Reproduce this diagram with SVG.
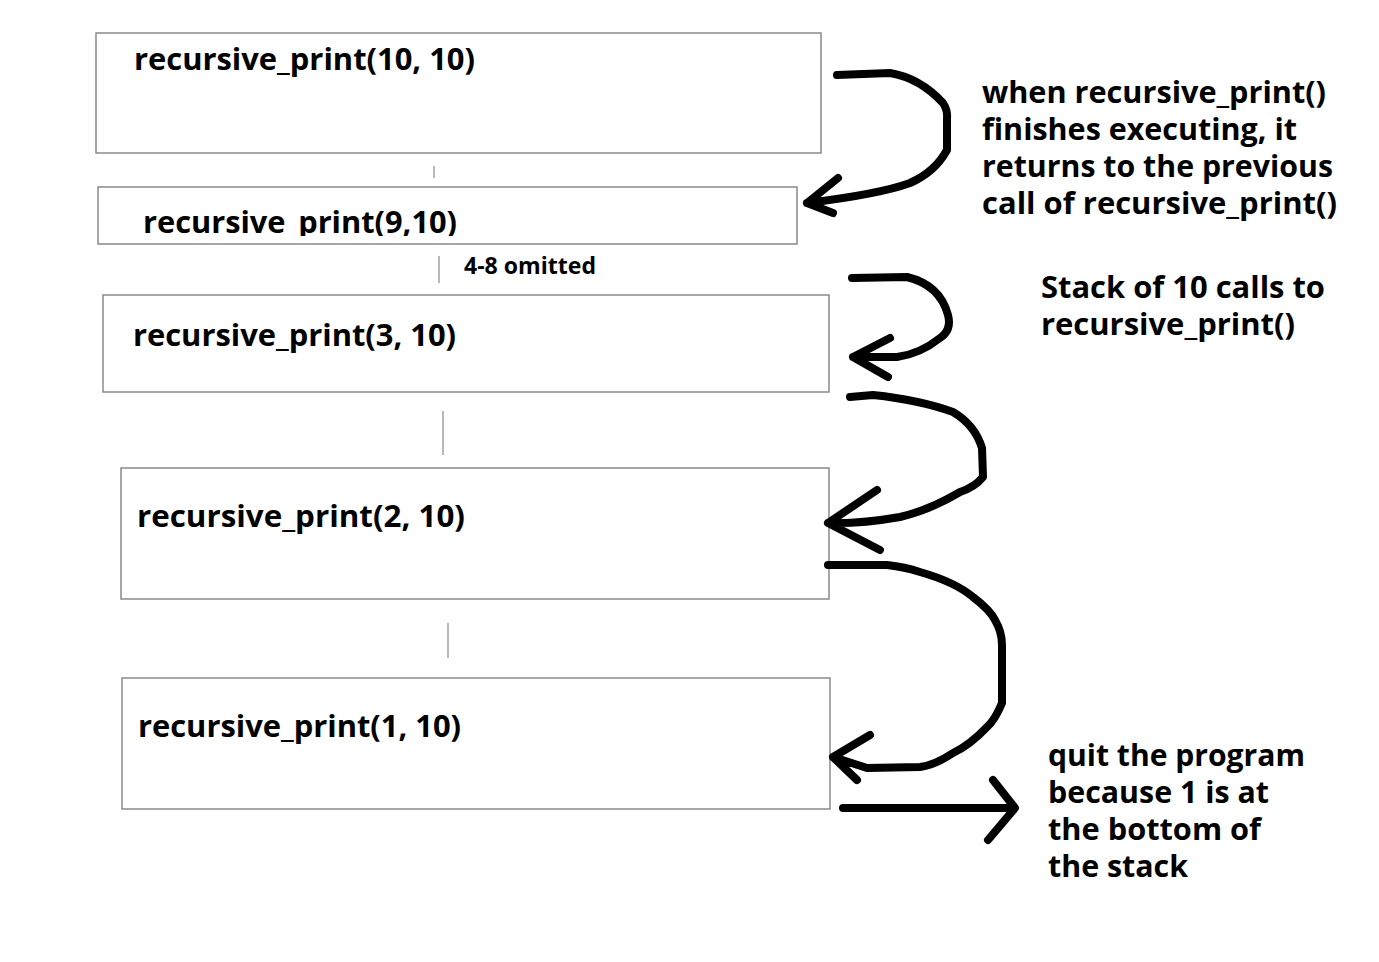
<svg xmlns="http://www.w3.org/2000/svg" width="1379" height="962" viewBox="0 0 1379 962">
<style>
.box{fill:#fff;stroke:#8a8a8a;stroke-width:1.5}
.lbl{font-family:"Open Sans","DejaVu Sans",sans-serif;font-weight:bold;font-size:30px;fill:#000}
.note{font-family:"Open Sans","DejaVu Sans",sans-serif;font-weight:bold;font-size:30px;fill:#000}
.small{font-family:"Open Sans","DejaVu Sans",sans-serif;font-weight:bold;font-size:23px;fill:#000}
.tick{stroke:#8a8a8a;stroke-width:1.2}
.pen{fill:none;stroke:#000;stroke-width:8;stroke-linecap:round;stroke-linejoin:round}
</style>
<defs>
<clipPath id="clip9"><rect x="98" y="187" width="699" height="49"/></clipPath>
</defs>
<rect width="1379" height="962" fill="#fff"/>
<g id="node-call10">
<rect class="box" x="96" y="33" width="725" height="120"/>
<text class="lbl" x="134" y="70" textLength="341" lengthAdjust="spacingAndGlyphs">recursive_print(10, 10)</text>
</g>
<g id="node-call9">
<rect class="box" x="98" y="187" width="699" height="57"/>
<text class="lbl" x="143" y="233" textLength="314" lengthAdjust="spacingAndGlyphs" clip-path="url(#clip9)">recursive_print(9,10)</text>
</g>
<g id="node-call3">
<rect class="box" x="103" y="295" width="726" height="97"/>
<text class="lbl" x="133" y="346" textLength="323" lengthAdjust="spacingAndGlyphs">recursive_print(3, 10)</text>
</g>
<g id="node-call2">
<rect class="box" x="121" y="468" width="708" height="131"/>
<text class="lbl" x="137" y="527" textLength="328" lengthAdjust="spacingAndGlyphs">recursive_print(2, 10)</text>
</g>
<g id="node-call1">
<rect class="box" x="122" y="678" width="708" height="131"/>
<text class="lbl" x="138" y="737" textLength="323" lengthAdjust="spacingAndGlyphs">recursive_print(1, 10)</text>
</g>
<g id="connectors">
<line class="tick" x1="434" y1="166" x2="434" y2="178"/>
<line class="tick" x1="439" y1="256" x2="439" y2="283"/>
<line class="tick" x1="443" y1="411" x2="443" y2="455"/>
<line class="tick" x1="448" y1="623" x2="448" y2="658"/>
<path class="pen" d="M837,75 L890,73 Q920,78 943,103 Q948,110 947,120 L947,150 Q935,172 910,183 Q880,194 807,203 M838,178 L807,203 L833,213"/>
<path class="pen" d="M852,278 L907,277 Q940,285 948,315 Q952,330 940,338 Q920,354 897,357 L853,357 M890,338 L853,357 L888,377"/>
<path class="pen" d="M850,397 L873,395 Q920,400 953,412 Q975,425 982,448 L983,477 Q975,487 960,492 Q930,510 900,517 Q860,524 828,523 M877,490 L828,523 L880,550"/>
<path class="pen" d="M828,565 L887,565 Q905,567 920,572 Q955,582 973,597 Q990,610 995,620 Q1002,632 1002,645 L1002,703 Q995,720 987,727 Q970,745 953,753 Q935,765 920,767 L867,768 L833,757 M870,735 L833,757 L857,780"/>
<path class="pen" d="M843,808 L1013,808 M993,780 L1015,808 L988,840"/>
</g>
<g id="notes">
<text class="note" x="982" y="103" textLength="344" lengthAdjust="spacingAndGlyphs">when recursive_print()</text>
<text class="note" x="982" y="140" textLength="315" lengthAdjust="spacingAndGlyphs">finishes executing, it</text>
<text class="note" x="982" y="177" textLength="351" lengthAdjust="spacingAndGlyphs">returns to the previous</text>
<text class="note" x="982" y="214" textLength="355" lengthAdjust="spacingAndGlyphs">call of recursive_print()</text>
<text class="note" x="1041" y="298" textLength="284" lengthAdjust="spacingAndGlyphs">Stack of 10 calls to</text>
<text class="note" x="1041" y="335" textLength="254" lengthAdjust="spacingAndGlyphs">recursive_print()</text>
<text class="note" x="1048" y="766" textLength="257" lengthAdjust="spacingAndGlyphs">quit the program</text>
<text class="note" x="1048" y="803" textLength="221" lengthAdjust="spacingAndGlyphs">because 1 is at</text>
<text class="note" x="1048" y="840" textLength="213" lengthAdjust="spacingAndGlyphs">the bottom of</text>
<text class="note" x="1048" y="877" textLength="140" lengthAdjust="spacingAndGlyphs">the stack</text>
<text class="small" x="464" y="274" textLength="132" lengthAdjust="spacingAndGlyphs">4-8 omitted</text>
</g>
</svg>
